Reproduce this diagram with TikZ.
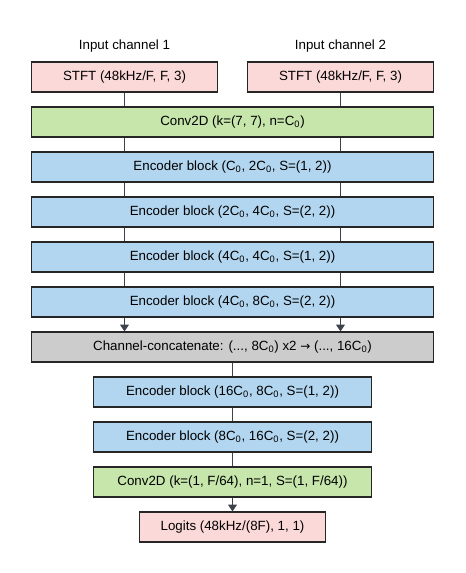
\documentclass[tikz,border=0pt]{standalone}
\usepackage{fontspec}
\setmainfont{Liberation Sans}
\newfontfamily\arrowfont{DejaVu Sans}
\usetikzlibrary{positioning,calc,arrows.meta}

\definecolor{stftpink}{HTML}{FCD9D9}
\definecolor{convgreen}{HTML}{C6E6AB}
\definecolor{encblue}{HTML}{B3D6F0}
\definecolor{catgray}{HTML}{CCCCCC}
\definecolor{wiregray}{HTML}{3D424D}

\tikzset{
  block/.style={draw=black!85, line width=0.9pt, minimum height=22.5pt, inner sep=0pt, font=\normalsize},
  wide/.style={block, minimum width=302pt},
  mid/.style={block, minimum width=209pt},
  narrow/.style={block, minimum width=140pt},
  wire/.style={draw=wiregray, line width=0.8pt},
  feed/.style={wire, -{Triangle[length=5pt,width=6.5pt]}}
}

\newcommand{\Cz}{C\textsubscript{0}}

\begin{document}
\begin{tikzpicture}[x=0.75pt, y=-0.75pt]
                    \useasboundingbox (0, 0) rectangle (466, 573);
                    \def\pitch{45} % Define the distance between block rows

                    \node at (124.5, 46) (in1) {Input channel 1};
                    \node at (340.5, 46) (in2) {Input channel 2};

                    \node[narrow, fill=stftpink] at (124.5, 77) (stft1) {STFT (48kHz/F, F, 3)};
                    \node[narrow, fill=stftpink] at (340.5, 77) (stft2) {STFT (48kHz/F, F, 3)};

                    \node[wide, fill=convgreen] at (232.5, 77+\pitch) (conv) {Conv2D (k=(7, 7), n=\Cz)};

                    \node[wide, fill=encblue] at (232.5, 77+2*\pitch) (enc1)
                    {Encoder block (\Cz, 2\Cz, S=(1, 2))};
                    \node[wide, fill=encblue] at (232.5, 77+3*\pitch) (enc2)
                    {Encoder block (2\Cz, 4\Cz, S=(2, 2))};
                    \node[wide, fill=encblue] at (232.5, 77+4*\pitch) (enc3)
                    {Encoder block (4\Cz, 4\Cz, S=(1, 2))};
                    \node[wide, fill=encblue] at (232.5, 77+5*\pitch) (enc4)
                    {Encoder block (4\Cz, 8\Cz, S=(2, 2))};

                    \node[wide, fill=catgray] at (232.5, 77+6*\pitch) (cat)
                    {Channel-concatenate: (..., 8\Cz) x2 {\arrowfont\small →} (..., 16\Cz)};

                    \node[mid, fill=encblue] at (232.5, 77+7*\pitch) (enc5)
                    {Encoder block (16\Cz, 8\Cz, S=(1, 2))};
                    \node[mid, fill=encblue] at (232.5, 77+8*\pitch) (enc6)
                    {Encoder block (8\Cz, 16\Cz, S=(2, 2))};
                    \node[mid, fill=convgreen] at (232.5, 77+9*\pitch) (head)
                    {Conv2D (k=(1, F/64), n=1, S=(1, F/64))};
                    \node[narrow, fill=stftpink] at (232.5, 77+10*\pitch) (logits)
                    {Logits (48kHz/(8F), 1, 1)};

                    % two channels run side by side
                    \foreach \s in {1, 2} {
                    \draw[wire] (stft\s.south) -- (conv.north -| stft\s.south);
                    \draw[wire] (conv.south -| stft\s.south) -- (enc1.north -| stft\s.south);
                    \draw[wire] (enc1.south -| stft\s.south) -- (enc2.north -| stft\s.south);
                    \draw[wire] (enc2.south -| stft\s.south) -- (enc3.north -| stft\s.south);
                    \draw[wire] (enc3.south -| stft\s.south) -- (enc4.north -| stft\s.south);
                    \draw[feed] (enc4.south -| stft\s.south) -- (cat.north -| stft\s.south);
                    }

                    \draw[wire] (cat.south) -- (enc5.north);
                    \draw[wire] (enc5.south) -- (enc6.north);
                    \draw[wire] (enc6.south) -- (head.north);
                    \draw[feed] (head.south) -- (logits.north);
                \end{tikzpicture}
\end{document}
